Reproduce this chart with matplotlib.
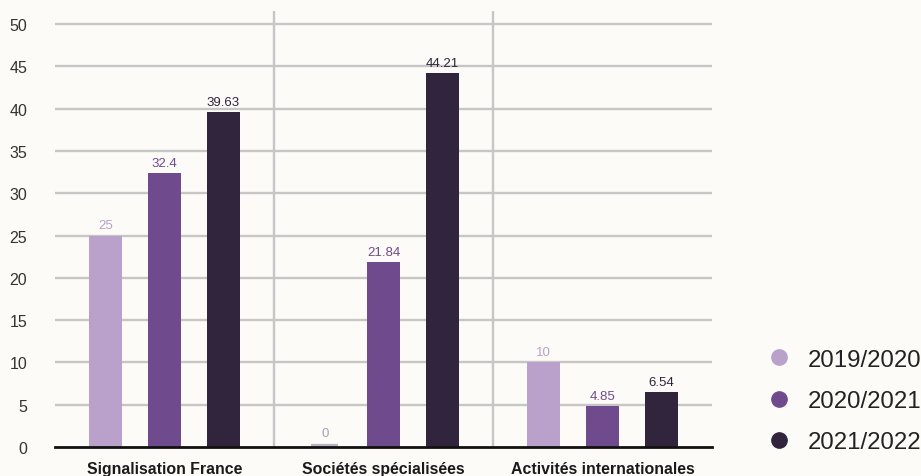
import matplotlib
matplotlib.use("Agg")
import matplotlib.pyplot as plt
from matplotlib.lines import Line2D
import numpy as np

categories = ["Signalisation France", "Sociétés spécialisées", "Activités internationales"]
series_names = ["2019/2020", "2020/2021", "2021/2022"]
values_2019 = [25, 0, 10]
values_2020 = [32.4, 21.84, 4.85]
values_2021 = [39.63, 44.21, 6.54]
labels_2019 = ["25", "0", "10"]
labels_2020 = ["32.4", "21.84", "4.85"]
labels_2021 = ["39.63", "44.21", "6.54"]
yticks = [0, 5, 10, 15, 20, 25, 30, 35, 40, 45, 50]

colors = ["#b9a1cc", "#6f4a8c", "#31243d"]
bg = "#fcfbf8"

plt.rcParams["font.family"] = ["Liberation Sans", "DejaVu Sans"]

fig = plt.figure(figsize=(9.21, 4.77), dpi=100, facecolor=bg)
ax = fig.add_axes([0.0597, 0.0608, 0.7133, 0.914])
ax.set_facecolor(bg)

x = np.arange(len(categories))
offset = 0.268
width = 0.15
all_vals = [values_2019, values_2020, values_2021]
all_labels = [labels_2019, labels_2020, labels_2021]

for i, (vals, labs) in enumerate(zip(all_vals, all_labels)):
    pos = x + (i - 1) * offset
    for j, (p, v, lab) in enumerate(zip(pos, vals, labs)):
        if v == 0:
            fc = "#bcb4c4"
            ax.bar(p, v, width=width - 0.025, color=fc, edgecolor=fc, linewidth=4.5,
                   zorder=3)
            tc = "#a99cb6"
            dy = 6
        else:
            fc = colors[i]
            ax.bar(p, v, width=width, color=fc, linewidth=0, zorder=3)
            tc = colors[i]
            dy = 3
        ax.annotate(lab, (p, v), xytext=(0, dy), textcoords="offset points",
                    ha="center", va="bottom", fontsize=9.5, color=tc)

ax.set_xlim(-0.5, 2.5)
ax.set_ylim(0, 51.55)
ax.set_yticks(yticks)
ax.set_yticklabels([str(t) for t in yticks], fontsize=11.5, color="#333333")
ax.set_xticks(x)
ax.set_xticklabels(categories, fontsize=11.4, fontweight="bold", color="#1a1a1a")
ax.tick_params(axis="both", length=0)
ax.tick_params(axis="y", pad=20)
ax.tick_params(axis="x", pad=10)

for t in yticks[1:]:
    ax.axhline(t, color="#c6c6c6", linewidth=1.7, zorder=1)
for s in [0.5, 1.5]:
    ax.axvline(s, color="#c6c6c6", linewidth=1.7, zorder=1)

for sp in ["top", "right", "left"]:
    ax.spines[sp].set_visible(False)
ax.spines["bottom"].set_color("#111111")
ax.spines["bottom"].set_linewidth(2)
ax.spines["bottom"].set_zorder(4)

handles = [Line2D([], [], marker="o", linestyle="none", markersize=11,
                  markerfacecolor=c, markeredgecolor=c) for c in colors]
fig.legend(handles, series_names, loc="center left", bbox_to_anchor=(0.822, 0.157),
           frameon=False, labelspacing=0.8, handletextpad=0.73,
           handlelength=1.0, borderaxespad=0, prop={"size": 17.3})
for t in fig.legends[0].get_texts():
    t.set_color("#222222")

fig.savefig("out.png", dpi=100, facecolor=bg)
